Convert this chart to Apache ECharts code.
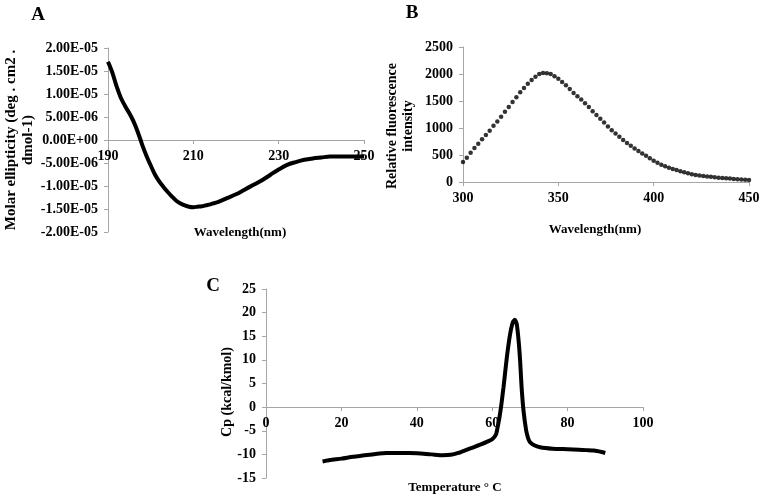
<!DOCTYPE html>
<html>
<head>
<meta charset="utf-8">
<script src="https://cdn.jsdelivr.net/npm/echarts@6/dist/echarts.min.js"></script>
<style>html,body{margin:0;padding:0;background:#fff}#c{width:764px;height:500px}</style>
</head>
<body>
<div id="c"></div>
<script>
// Panel A: CD spectrum
const cdWavelength = [190,191,192,193,194,195,196,197,198,199,200,201,202,203,204,205,206,207,208,209,210,211,212,213,214,215,216,218,220,222,224,226,228,230,232,234,236,238,240,242,244,246,248,250];
const cdEllipticity = [1.70e-5,1.47e-5,1.17e-5,0.92e-5,0.74e-5,0.58e-5,0.40e-5,0.17e-5,-0.10e-5,-0.34e-5,-0.55e-5,-0.75e-5,-0.90e-5,-1.02e-5,-1.13e-5,-1.23e-5,-1.32e-5,-1.38e-5,-1.42e-5,-1.45e-5,-1.46e-5,-1.45e-5,-1.44e-5,-1.42e-5,-1.40e-5,-1.37e-5,-1.34e-5,-1.26e-5,-1.18e-5,-1.08e-5,-0.98e-5,-0.88e-5,-0.76e-5,-0.64e-5,-0.54e-5,-0.48e-5,-0.43e-5,-0.40e-5,-0.38e-5,-0.36e-5,-0.36e-5,-0.36e-5,-0.36e-5,-0.36e-5];
const cdXTicks = [190, 250, 20];
const cdYTicks = [-2e-5, 2e-5, 5e-6];
// Panel B: fluorescence spectrum
const flWavelength = [300,302,304,306,308,310,312,314,316,318,320,322,324,326,328,330,332,334,336,338,340,342,344,346,348,350,352,354,356,358,360,362,364,366,368,370,372,374,376,378,380,382,384,386,388,390,392,394,396,398,400,402,404,406,408,410,412,414,416,418,420,422,424,426,428,430,432,434,436,438,440,442,444,446,448,450];
const flIntensity = [370,450,540,630,710,790,870,950,1040,1120,1210,1300,1390,1480,1570,1660,1740,1820,1890,1950,2000,2020,2015,2000,1960,1910,1850,1790,1720,1650,1590,1530,1460,1390,1310,1240,1170,1100,1030,960,900,840,780,720,670,620,575,530,485,440,395,355,320,290,265,240,220,200,180,160,145,130,120,110,100,95,88,80,75,70,63,57,50,45,40,35];
const flXTicks = [300, 450, 50];
const flYTicks = [0, 2500, 500];
// Panel C: DSC thermogram
const dscTemperature = [15,17,20,23,26,29,32,35,38,41,44,47,49,51,53,55,57,59,60,61,61.5,62,62.5,63,63.5,64,64.5,65,65.5,66,66.5,67,67.4,67.8,68.3,69,69.5,70,71,72.7,76,80,83,85,87,89,90];
const dscCp = [-11.5,-11.2,-10.9,-10.5,-10.2,-9.9,-9.7,-9.7,-9.7,-9.8,-10.0,-10.2,-10.1,-9.7,-9.1,-8.5,-7.9,-7.2,-6.8,-5.8,-4.0,-1.8,1.0,4.2,7.8,11.3,14.2,16.5,18.0,18.5,17.6,14.1,9.9,4.2,-0.7,-4.9,-6.5,-7.4,-8.0,-8.5,-8.8,-8.9,-9.0,-9.1,-9.2,-9.5,-9.7];
const dscXTicks = [0, 100, 20];
const dscYTicks = [-15, 25, 5];

const FONT = '"Liberation Serif", "Times New Roman", serif';
const axisGray = '#a6a6a6';
const GRIDS = [
  { left: 108, top: 48, width: 256, height: 184 },
  { left: 463, top: 47, width: 286, height: 135 },
  { left: 266, top: 289, width: 377, height: 189 }
];

function sci(v) {
  if (Math.abs(v) < 1e-12) v = 0;
  const parts = v.toExponential(2).split('e');
  const sign = parts[1][0] === '-' ? '-' : '+';
  let d = parts[1].replace(/[+-]/, '');
  if (d.length < 2) d = '0' + d;
  return parts[0] + 'E' + sign + d;
}
function plain(v) { return String(Math.round(v * 1e6) / 1e6); }

// x axis crosses the y axis at value 0 (Excel style): shift it up from the grid bottom
function xAx(idx, t, yT) {
  const h = GRIDS[idx].height;
  const zeroFrac = (0 - yT[0]) / (yT[1] - yT[0]);
  return {
    type: 'value', gridIndex: idx, min: t[0], max: t[1], interval: t[2],
    position: 'bottom',
    offset: -Math.max(0, zeroFrac) * h,
    axisLine: { show: true, onZero: false, lineStyle: { color: axisGray, width: 1 } },
    axisTick: { show: true, length: 4, lineStyle: { color: axisGray } },
    splitLine: { show: false },
    axisLabel: { color: '#000', fontFamily: FONT, fontWeight: 'bold', fontSize: 14, margin: 9, formatter: plain }
  };
}
function yAx(idx, t, fmt) {
  return {
    type: 'value', gridIndex: idx, min: t[0], max: t[1], interval: t[2],
    axisLine: { show: true, onZero: false, lineStyle: { color: axisGray, width: 1 } },
    axisTick: { show: true, length: 4, lineStyle: { color: axisGray } },
    splitLine: { show: false },
    axisLabel: { color: '#000', fontFamily: FONT, fontWeight: 'bold', fontSize: 14, margin: 10, formatter: fmt || plain }
  };
}
function txt(x, y, text, size, rot, lh) {
  return {
    type: 'text', x: x, y: y, rotation: rot || 0,
    style: { text: text, fill: '#000', font: 'bold ' + size + 'px ' + FONT, align: 'center', verticalAlign: 'middle', lineHeight: lh || size + 3 }
  };
}

const chart = echarts.init(document.getElementById('c'), null, { renderer: 'canvas' });
chart.setOption({
  backgroundColor: '#fff',
  animation: false,
  grid: GRIDS,
  xAxis: [ xAx(0, cdXTicks, cdYTicks), xAx(1, flXTicks, flYTicks), xAx(2, dscXTicks, dscYTicks) ],
  yAxis: [ yAx(0, cdYTicks, sci), yAx(1, flYTicks), yAx(2, dscYTicks) ],
  series: [
    {
      type: 'line', xAxisIndex: 0, yAxisIndex: 0, smooth: 0.3, showSymbol: false,
      lineStyle: { color: '#000', width: 4 },
      data: cdWavelength.map((w, i) => [w, cdEllipticity[i]])
    },
    {
      type: 'scatter', xAxisIndex: 1, yAxisIndex: 1, symbol: 'circle', symbolSize: 4.5,
      itemStyle: { color: '#000' },
      data: flWavelength.map((w, i) => [w, flIntensity[i]])
    },
    {
      type: 'line', xAxisIndex: 2, yAxisIndex: 2, smooth: 0.2, showSymbol: false,
      lineStyle: { color: '#000', width: 4 },
      data: dscTemperature.map((t, i) => [t, dscCp[i]])
    }
  ],
  graphic: [
    txt(38, 15, 'A', 19),
    txt(412, 13, 'B', 19),
    txt(213, 286, 'C', 19),
    txt(20, 140, 'Molar ellipticity (deg . cm2 .\ndmol-1)', 15, Math.PI / 2, 17),
    txt(240, 233, 'Wavelength(nm)', 13),
    txt(400, 126, 'Relative fluorescence\nintensity', 14, Math.PI / 2, 16),
    txt(595, 230, 'Wavelength(nm)', 13),
    txt(227, 392, 'Cp (kcal/kmol)', 14, Math.PI / 2),
    txt(455, 488, 'Temperature \u00b0 C', 13)
  ]
});
</script>
</body>
</html>
